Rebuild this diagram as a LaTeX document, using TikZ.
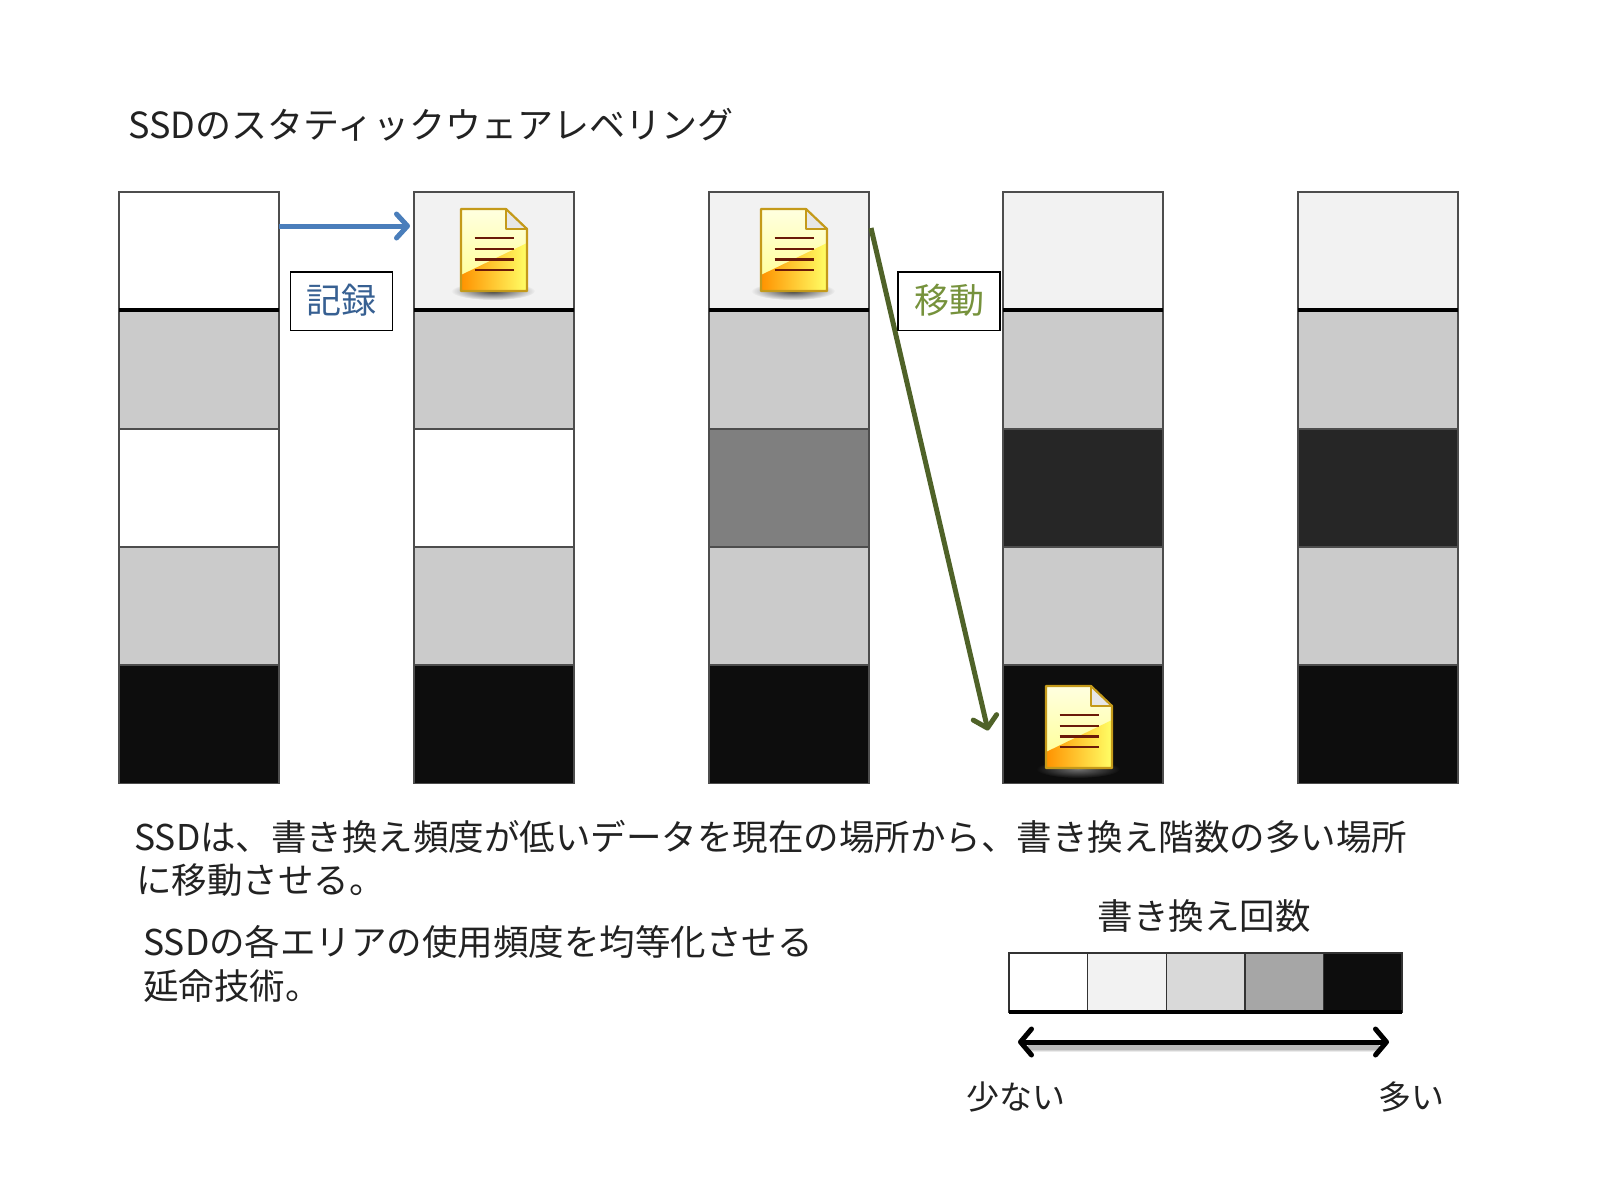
\documentclass[tikz,border=0pt]{standalone}
\usepackage{fontspec}
\setmainfont{Noto Sans CJK JP}
\usetikzlibrary{arrows.meta,calc,fadings}
\definecolor{cw}{HTML}{FFFFFF}
\definecolor{cl}{HTML}{F2F2F2}
\definecolor{cg}{HTML}{CBCBCB}
\definecolor{cm}{HTML}{7F7F7F}
\definecolor{cd}{HTML}{262626}
\definecolor{ck}{HTML}{0D0D0D}
\definecolor{lg2}{HTML}{D9D9D9}
\definecolor{lg3}{HTML}{A6A6A6}
\definecolor{edgegray}{HTML}{4D4D4D}
\definecolor{bluearrow}{HTML}{4A7EBB}
\definecolor{greenarrow}{HTML}{4F6228}
\definecolor{bluetext}{HTML}{376092}
\definecolor{greentext}{HTML}{76923C}
\definecolor{docedge}{HTML}{C49A1A}
\definecolor{docline}{HTML}{6B1A08}
\definecolor{txt}{HTML}{222222}
\tikzfading[name=softedge,inner color=transparent!25,outer color=transparent!100]
\tikzset{
  x=1pt,y=-1pt,
  cell/.style={draw=edgegray,line width=1.8pt,minimum width=160pt,minimum height=118pt,inner sep=0pt,outer sep=0pt},
  legcell/.style={draw=black!80,line width=1.4pt,minimum width=78.6pt,minimum height=59pt,inner sep=0pt,outer sep=0pt},
  labelbox/.style={draw=black,fill=white,line width=1.3pt,minimum width=102pt,minimum height=58.5pt,inner sep=0pt,font=\fontsize{35}{35}\selectfont},
  txtline/.style={anchor=west,inner sep=0pt,text=txt,font=\fontsize{35.5}{35.5}\selectfont},
  pics/docicon/.style={code={
    \fill[black,path fading=softedge,opacity=#1] (32,82) ellipse [x radius=42pt,y radius=9pt];
    \begin{scope}
      \clip (0,0) -- (45,0) -- (66,20) -- (66,82) -- (0,82) -- cycle;
      \shade[top color=white!60!yellow!30,bottom color=yellow!45!white] (0,0) rectangle (66,82);
      \shade[shading=axis,shading angle=215,left color=orange!85!yellow,right color=yellow!60!white]
        (0,66) -- (66,34) -- (66,82) -- (0,82) -- cycle;
    \end{scope}
    \fill[cl!90!gray] (45,0) -- (66,20) -- (45,20) -- cycle;
    \draw[docedge,line width=2.2pt,line join=round] (0,0) -- (45,0) -- (66,20) -- (66,82) -- (0,82) -- cycle;
    \draw[docedge,line width=2.2pt,line join=round] (45,0) -- (45,20) -- (66,20);
    \foreach \yy in {29,40,50.5,61} \draw[docline,line width=2.2pt] (13.5,\yy) -- (52.5,\yy);
  }},
  pics/docicon/.default=1
}
\begin{document}
\begin{tikzpicture}
\useasboundingbox (0,0) rectangle (1600,1200);
% columns
\foreach \nm/\cx/\ca/\cb/\cc/\cdd/\ce in {
  a/199.3/cw/cg/cw/cg/ck,
  b/494/cl/cg/cw/cg/ck,
  c/789/cl/cg/cm/cg/ck,
  d/1083/cl/cg/cd/cg/ck,
  e/1378/cl/cg/cd/cg/ck}{
  \node[cell,fill=\ca]  (\nm1) at (\cx,251)   {};
  \node[cell,fill=\cb]  (\nm2) at (\cx,369.5) {};
  \node[cell,fill=\cc]  (\nm3) at (\cx,488)   {};
  \node[cell,fill=\cdd] (\nm4) at (\cx,606)   {};
  \node[cell,fill=\ce]  (\nm5) at (\cx,724.5) {};
  \draw[black,line width=3.2pt] (\nm1.south west) -- (\nm1.south east);
}
% documents
\path (461,209) pic {docicon=1};
\path (761,209) pic {docicon=1};
\begin{scope}
  \fill[white,path fading=softedge,opacity=.55] (1078,769) ellipse [x radius=42pt,y radius=9pt];
  \path (1046,686) pic {docicon=0};
\end{scope}
% connectors
\coordinate (bluestart) at ($(a1.east)+(0,-25)$);
\coordinate (blueend) at ($(b1.west)+(-4,-25)$);
\draw[bluearrow,line width=5pt,-{Straight Barb[length=11pt,width=24pt,round]}] (bluestart) -- (blueend);
\coordinate (greenstart) at ($(c1.east)+(2,-23)$);
\coordinate (greenend) at ($(d5.west)+(-15,6)$);
\draw[greenarrow,line width=5pt,-{Straight Barb[length=11pt,width=24pt,round]}] (greenstart) -- (greenend);
% labels
\node[labelbox,text=bluetext]  (rec) at (341.7,301.3) {\raisebox{5pt}{記録}};
\node[labelbox,text=greentext] (mov) at (949,301.3)   {\raisebox{5pt}{移動}};
% texts
\node[txtline,font=\fontsize{36}{36}\selectfont] (title) at (128,125) {SSDのスタティックウェアレベリング};
\node[txtline] (body1) at (134,837) {SSDは、書き換え頻度が低いデータを現在の場所から、書き換え階数の多い場所};
\node[txtline] (body2) at (136,880) {に移動させる。};
\node[txtline] (body3) at (143,942) {SSDの各エリアの使用頻度を均等化させる};
\node[txtline] (body4) at (143,986) {延命技術。};
\node[txtline,anchor=center] (legt) at (1204,916) {書き換え回数};
\node[txtline,anchor=center,font=\fontsize{33}{33}\selectfont] (few) at (1016,1097) {少ない};
\node[txtline,anchor=center,font=\fontsize{33}{33}\selectfont] (many) at (1411,1097) {多い};
% legend
\foreach \nm/\cx/\col in {l1/1048.3/cw,l2/1126.9/cl,l3/1205.5/lg2,l4/1284.1/lg3,l5/1362.7/ck}{
  \node[legcell,fill=\col] (\nm) at (\cx,982.5) {};
}
\draw[black,line width=3.2pt] (l1.south west) -- (l5.south east);
\coordinate (legl) at (1018,1042);
\coordinate (legr) at (1389,1042);
\foreach \w/\o in {9/.08,7/.1,5/.12}{
  \draw[black,opacity=\o,line width=\w pt] ($(legl)+(10,5)$) -- ($(legr)+(-10,5)$);
}
\draw[black,line width=5pt,{Straight Barb[length=11pt,width=26pt,round]}-{Straight Barb[length=11pt,width=26pt,round]}] (legl) -- (legr);
\end{tikzpicture}
\end{document}
